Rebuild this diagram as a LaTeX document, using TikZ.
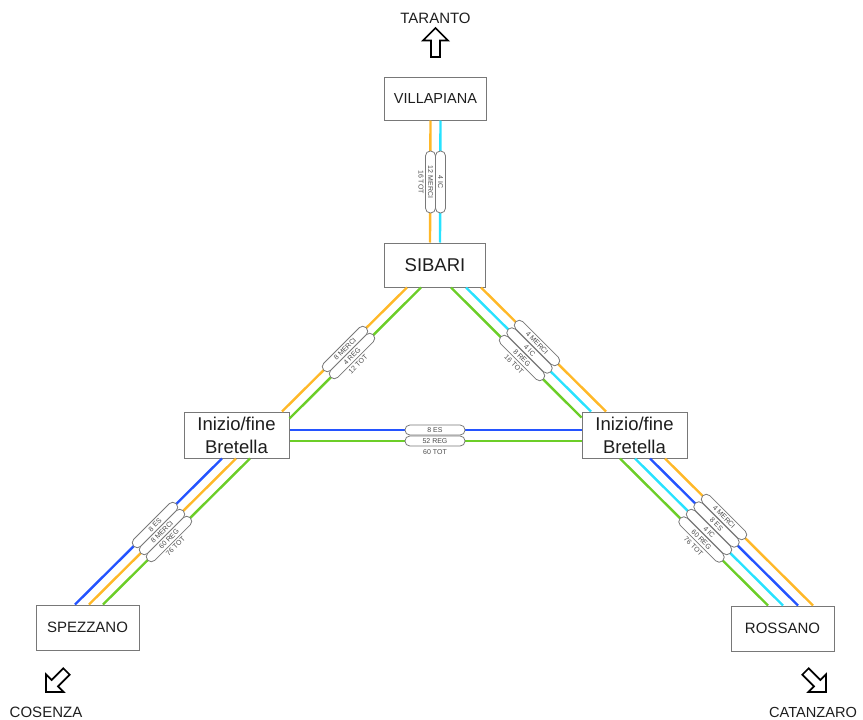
\documentclass[tikz,border=0pt]{standalone}
\usepackage{fontspec}
\setmainfont{Liberation Sans}
\definecolor{arancio}{RGB}{255,184,40}
\definecolor{ciano}{RGB}{40,226,255}
\definecolor{verde}{RGB}{108,206,40}
\definecolor{blu}{RGB}{36,84,255}
\definecolor{bordo}{RGB}{120,120,120}
\definecolor{scritta}{RGB}{30,30,30}
\definecolor{grigio}{RGB}{75,75,75}
\begin{document}
\begin{tikzpicture}[x=1pt,y=-1pt,
	stazione/.style={draw=bordo,line width=1pt,fill=white,minimum width=103pt,minimum height=45pt,inner sep=0pt,text=scritta,align=center},
	binario/.style={line width=2.4pt},
	capsula/.style={draw=bordo,line width=0.8pt,fill=white,rounded corners=4.8pt,minimum width=60pt,minimum height=10pt,inner sep=0pt,text=grigio,font=\fontsize{7}{7}\selectfont},
	totale/.style={inner sep=0pt,text=grigio,font=\fontsize{7}{7}\selectfont},
	meta/.style={text=scritta,font=\fontsize{15}{18}\selectfont},
	freccia/.pic={\draw[line width=1.7pt,line join=miter] (0,0)--(12.5,12.5)--(4.5,12.5)--(4.5,29)--(-4.5,29)--(-4.5,12.5)--(-12.5,12.5)--cycle;}]
	\useasboundingbox (0,0) rectangle (863,720);
	% stazioni
	\node[stazione,minimum width=102pt,minimum height=43pt,font=\fontsize{14.5}{17}\selectfont] (vil) at (435.5,98.5) {VILLAPIANA};
	\node[stazione,minimum width=101pt,minimum height=44pt,font=\fontsize{18.5}{22}\selectfont] (sib) at (435,265) {SIBARI};
	\node[stazione,minimum width=105pt,minimum height=46pt,font=\fontsize{18.5}{23}\selectfont] (lbr) at (236.5,435) {Inizio/fine\\Bretella};
	\node[stazione,minimum width=105pt,minimum height=46pt,font=\fontsize{18.5}{23}\selectfont] (rbr) at (634.5,435) {Inizio/fine\\Bretella};
	\node[stazione,font=\fontsize{15}{18}\selectfont] (spe) at (87.5,627.5) {SPEZZANO};
	\node[stazione,font=\fontsize{15}{18}\selectfont] (ros) at (782.5,628.5) {ROSSANO};
	% direzioni
	\node[meta] (tar) at (435.5,18) {TARANTO};
	\node[meta] (cos) at (46,712) {COSENZA};
	\node[meta,font=\fontsize{14.6}{18}\selectfont] (cat) at (813,712) {CATANZARO};
	\pic at (435.5,28) {freccia};
	\pic[rotate=135] at (46,692) {freccia};
	\pic[rotate=-135] at (826,692) {freccia};
	% Villapiana - Sibari
	\draw[binario,arancio] ([xshift=-5pt]vil.south)--([xshift=-5pt]sib.north);
	\draw[binario,ciano] ([xshift=5pt]vil.south)--([xshift=5pt]sib.north);
	% Sibari - Bretella sx
	\draw[binario,arancio] ([xshift=-28pt]sib.south)--([xshift=45.5pt]lbr.north);
	\draw[binario,verde] ([xshift=-14pt]sib.south)--([yshift=-7pt]lbr.north east);
	% Sibari - Bretella dx
	\draw[binario,verde] ([xshift=16pt]sib.south)--([yshift=-6pt]rbr.north west);
	\draw[binario,ciano] ([xshift=31pt]sib.south)--([xshift=-43.5pt]rbr.north);
	\draw[binario,arancio] ([xshift=46pt]sib.south)--([xshift=-28.5pt]rbr.north);
	% Bretella
	\draw[binario,blu] ([yshift=5pt]lbr.east)--([yshift=5pt]rbr.west);
	\draw[binario,verde] ([yshift=-6pt]lbr.east)--([yshift=-6pt]rbr.west);
	% Bretella sx - Spezzano
	\draw[binario,blu] ([xshift=-14.5pt]lbr.south)--([xshift=-12.5pt]spe.north);
	\draw[binario,arancio] ([xshift=-0.5pt]lbr.south)--([xshift=1.5pt]spe.north);
	\draw[binario,verde] ([xshift=13.5pt]lbr.south)--([xshift=15.5pt]spe.north);
	% Bretella dx - Rossano
	\draw[binario,verde] ([xshift=-14.5pt]rbr.south)--([xshift=-14.5pt]ros.north);
	\draw[binario,ciano] ([xshift=0.5pt]rbr.south)--([xshift=0.5pt]ros.north);
	\draw[binario,blu] ([xshift=15.5pt]rbr.south)--([xshift=15.5pt]ros.north);
	\draw[binario,arancio] ([xshift=30.5pt]rbr.south)--([xshift=30.5pt]ros.north);
	% treni
	\node[capsula,rotate=-90,minimum width=62pt] (vm) at (430.5,182) {12 MERCI};
	\node[capsula,rotate=-90,minimum width=62pt] (vi) at (440.5,182) {4 IC};
	\node[totale,rotate=-90] (vt) at (421,182) {16 TOT};
	\node[capsula,rotate=45] (sm) at (345,349) {8 MERCI};
	\node[capsula,rotate=45] (sr) at (352,356) {4 REG};
	\node[totale,rotate=45] (st) at (358,364) {12 TOT};
	\node[capsula,rotate=-45] (dm) at (537,343) {4 MERCI};
	\node[capsula,rotate=-45] (di) at (529.5,350.5) {4 IC};
	\node[capsula,rotate=-45] (dr) at (522,358) {8 REG};
	\node[totale,rotate=-45] (dt) at (514,364) {16 TOT};
	\node[capsula] (be) at (435,430) {8 ES};
	\node[capsula] (br) at (435,441) {52 REG};
	\node[totale] (bt) at (435,452) {60 TOT};
	\node[capsula,rotate=45] (pe) at (155,525) {8 ES};
	\node[capsula,rotate=45] (pm) at (162,532) {8 MERCI};
	\node[capsula,rotate=45] (pr) at (169,539) {60 REG};
	\node[totale,rotate=45] (pt) at (175.5,546.5) {76 TOT};
	\node[capsula,rotate=-45] (rm) at (724,517) {4 MERCI};
	\node[capsula,rotate=-45] (re) at (716.5,524.5) {8 ES};
	\node[capsula,rotate=-45] (ri) at (709,532) {4 IC};
	\node[capsula,rotate=-45] (rr) at (701.5,539.5) {60 REG};
	\node[totale,rotate=-45] (rt) at (693.5,546.5) {76 TOT};
\end{tikzpicture}
\end{document}
